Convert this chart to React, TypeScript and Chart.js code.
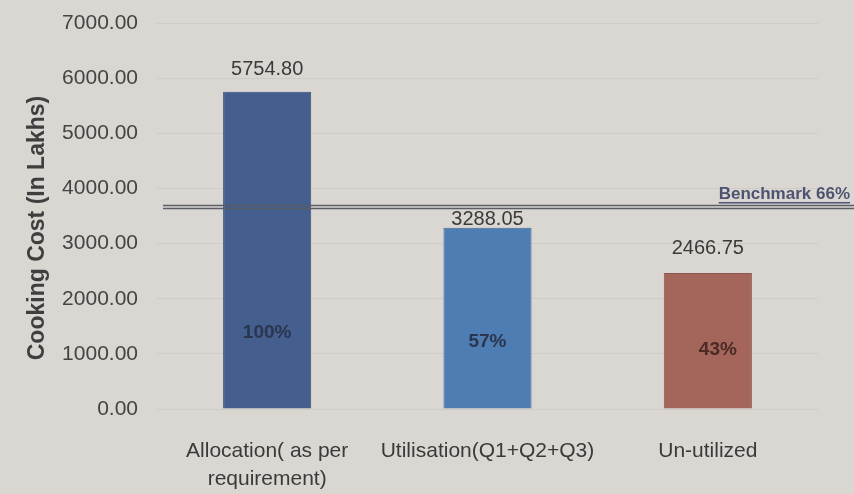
import React, { useEffect, useRef } from "react";
import { Chart, registerables } from "chart.js";

Chart.register(...registerables);

const categories: (string | string[])[] = [
  ["Allocation( as per", "requirement)"],
  "Utilisation(Q1+Q2+Q3)",
  "Un-utilized",
];
const costValues = [5754.8, 3288.05, 2466.75];
const percentLabels = ["100%", "57%", "43%"];
const percentLabelAt = [1380, 1220, 1070];
const benchmarkValue = 3670;
const benchmarkLabel = "Benchmark 66%";
const yTicks = { min: 0, max: 7000, step: 1000 };
const yTitle = "Cooking Cost (In Lakhs)";

const barColors = ["#445e8e", "#4d7db3", "#a4665b"];
const barBorders = ["#3a5079", "#41699a", "#8e564c"];
const valueLabelGap = [22, 8, 24];
const FONT = "'Liberation Sans', Arial, sans-serif";

export default function App() {
  const ref = useRef<HTMLCanvasElement>(null);
  useEffect(() => {
    if (!ref.current) return;
    const bg = {
      id: "bg",
      beforeDraw(c: any) {
        const ctx = c.ctx;
        ctx.save();
        ctx.fillStyle = "#dad7d2";
        ctx.fillRect(0, 0, c.width, c.height);
        ctx.restore();
      },
    };
    const labels = {
      id: "labels",
      afterDraw(c: any) {
        const ctx = c.ctx;
        const meta = c.getDatasetMeta(0);
        const y = c.scales.y;
        ctx.save();
        // y title
        ctx.save();
        ctx.translate(38, 228);
        ctx.rotate(-Math.PI / 2);
        ctx.font = `bold 23px ${FONT}`;
        ctx.fillStyle = "#3f3f3f";
        ctx.textAlign = "center";
        ctx.textBaseline = "middle";
        ctx.fillText(yTitle, 0, 0);
        ctx.restore();

        ctx.textAlign = "center";
        ctx.textBaseline = "middle";
        meta.data.forEach((bar: any, i: number) => {
          ctx.fillStyle = "#3a3a3a";
          ctx.font = `20px ${FONT}`;
          ctx.fillText(costValues[i].toFixed(2), bar.x, bar.y - valueLabelGap[i]);
          ctx.font = `bold 19px ${FONT}`;
          ctx.fillStyle = i === 2 ? "#4a2a24" : "#2a3650";
          ctx.fillText(percentLabels[i], bar.x + (i === 2 ? 10 : 0), y.getPixelForValue(percentLabelAt[i]));
        });
        // benchmark line
        const by = Math.round(y.getPixelForValue(benchmarkValue));
        ctx.strokeStyle = "#5a5d66";
        ctx.lineWidth = 1.5;
        ctx.beginPath();
        ctx.moveTo(163, by - 1.5);
        ctx.lineTo(c.width, by - 1.5);
        ctx.moveTo(163, by + 1.5);
        ctx.lineTo(c.width, by + 1.5);
        ctx.stroke();
        ctx.font = `bold 17px ${FONT}`;
        ctx.fillStyle = "#4d5370";
        ctx.textAlign = "right";
        ctx.textBaseline = "alphabetic";
        const tx = 850;
        ctx.fillText(benchmarkLabel, tx, by - 8);
        const w = ctx.measureText(benchmarkLabel).width;
        ctx.fillRect(tx - w, by - 5, w, 1.5);
        ctx.restore();
      },
    };
    const chart = new Chart(ref.current, {
      type: "bar",
      data: {
        labels: categories,
        datasets: [
          {
            data: costValues,
            backgroundColor: barColors,
            borderColor: barBorders,
            borderWidth: 1,
            barPercentage: 0.4,
            categoryPercentage: 1,
          },
        ],
      },
      options: {
        animation: false,
        responsive: false,
        layout: { padding: { top: 23, right: 36, bottom: 0, left: 0 } },
        plugins: { legend: { display: false }, tooltip: { enabled: false } },
        scales: {
          x: {
            grid: { display: false },
            border: { display: false },
            ticks: {
              color: "#3a3a3a",
              font: { family: FONT, size: 21, lineHeight: 1.33 },
              padding: 20,
              maxRotation: 0,
              autoSkip: false,
            },
            afterFit(s: any) {
              s.height = 85;
              s.paddingLeft = 0;
              s.paddingRight = 0;
            },
          },
          y: {
            min: yTicks.min,
            max: yTicks.max,
            grid: { color: "#cfccc6", drawTicks: false },
            border: { display: false },
            ticks: {
              stepSize: yTicks.step,
              color: "#444",
              font: { family: FONT, size: 21 },
              padding: 19,
              callback: (v: any) => Number(v).toFixed(2),
            },
            afterFit(s: any) {
              s.width = 157;
              s.paddingTop = 0;
              s.paddingBottom = 0;
            },
          },
        },
      },
      plugins: [bg, labels],
    });
    return () => chart.destroy();
  }, []);
  return (
    <div style={{ position: "fixed", left: 0, top: 0, width: 854, height: 494 }}>
      <canvas ref={ref} width={854} height={494} style={{ width: 854, height: 494 }} />
    </div>
  );
}
